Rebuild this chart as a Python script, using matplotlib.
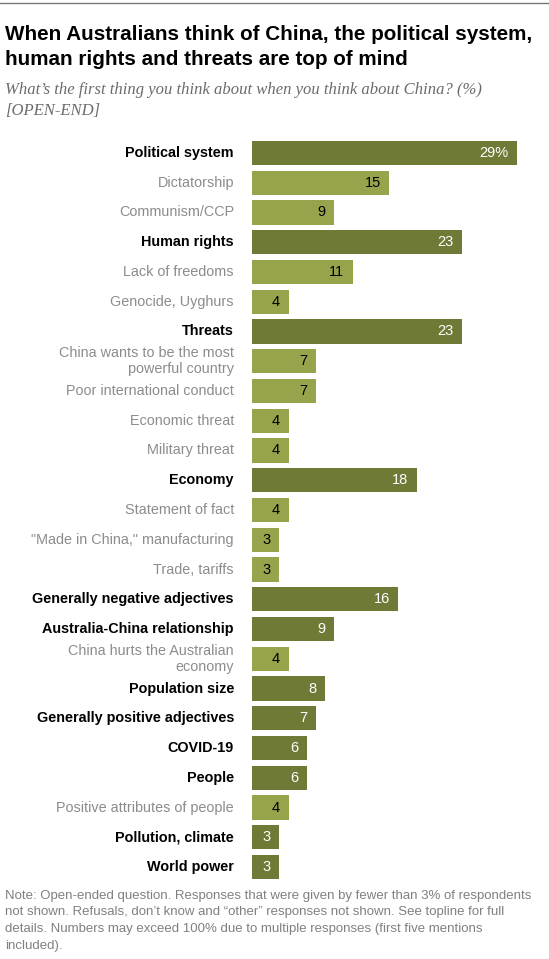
import matplotlib
matplotlib.use("Agg")
import matplotlib.pyplot as plt
from matplotlib.lines import Line2D

# data
labels = [
    "Political system", "Dictatorship", "Communism/CCP",
    "Human rights", "Lack of freedoms", "Genocide, Uyghurs",
    "Threats", "China wants to be the most\npowerful country",
    "Poor international conduct", "Economic threat", "Military threat",
    "Economy", "Statement of fact", "\"Made in China,\" manufacturing",
    "Trade, tariffs", "Generally negative adjectives",
    "Australia-China relationship", "China hurts the Australian\neconomy",
    "Population size", "Generally positive adjectives", "COVID-19",
    "People", "Positive attributes of people", "Pollution, climate",
    "World power",
]
values = [29, 15, 9, 23, 11, 4, 23, 7, 7, 4, 4, 18, 4, 3, 3, 16, 9, 4, 8, 7, 6, 6, 4, 3, 3]
is_main = [True, False, False, True, False, False, True, False, False, False, False,
           True, False, False, False, True, True, False, True, True, True,
           True, False, True, True]

dark = "#6f7a37"
light = "#98a44c"

plt.rcParams['font.family'] = ['Liberation Sans', 'DejaVu Sans']

fig = plt.figure(figsize=(5.49, 9.59), dpi=100)
ax = fig.add_axes([252 / 549, 77.1 / 959, 297 / 549, 743.8 / 959])

y = list(range(len(labels)))
colors = [dark if m else light for m in is_main]
ax.barh(y, values, height=0.81, color=colors)
ax.set_xlim(0, 297 / 9.14)
ax.set_ylim(len(labels) - 0.5, -0.5)
ax.axis('off')

for i, (lab, v, m) in enumerate(zip(labels, values, is_main)):
    ax.annotate(lab, (0, i), xytext=(-13, 0), textcoords='offset points',
                ha='right', va='center', fontsize=10.4,
                fontweight='bold' if m else 'normal',
                color='black' if m else '#8c8c8c', linespacing=1.2)
    txt = f"{v}%" if i == 0 else str(v)
    ax.annotate(txt, (v, i), xytext=(-6, 0), textcoords='offset points',
                ha='right', va='center', fontsize=10.5,
                color='white' if m else 'black')

fig.add_artist(Line2D([0, 1], [1 - 3 / 959, 1 - 3 / 959], color='#777777', lw=1))

fig.text(5 / 549, 1 - 25 / 959, "When Australians think of China, the political system,\nhuman rights and threats are top of mind",
         ha='left', va='top', fontsize=14.9, fontweight='bold', linespacing=1.4)
fig.text(5 / 549, 1 - 82 / 959, "What’s the first thing you think about when you think about China? (%)\n[OPEN-END]",
         ha='left', va='top', fontsize=12, style='italic', color='#6b6b6b',
         family=['Liberation Serif', 'DejaVu Serif'], linespacing=1.45)

fig.text(5 / 549, 1 - 890 / 959,
         "Note: Open-ended question. Responses that were given by fewer than 3% of respondents\n"
         "not shown. Refusals, don’t know and “other” responses not shown. See topline for full\n"
         "details. Numbers may exceed 100% due to multiple responses (first five mentions\n"
         "included).",
         ha='left', va='top', fontsize=9.5, color='#808080', linespacing=1.5)

fig.savefig("out.png", dpi=100)
